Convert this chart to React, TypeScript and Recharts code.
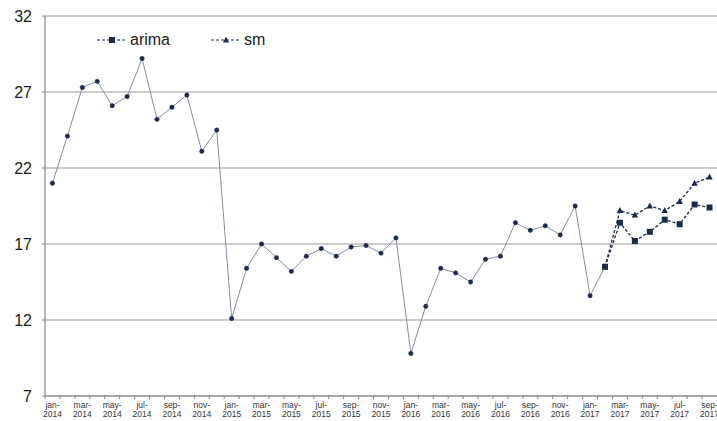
import React from "react";
import {
  LineChart,
  Line,
  XAxis,
  YAxis,
  CartesianGrid,
} from "recharts";

const monthNames = ["jan", "feb", "mar", "apr", "may", "jun", "jul", "aug", "sep", "oct", "nov", "dec"];
const years = [2014, 2015, 2016, 2017];

// observed values, jan-2014 .. feb-2017
const observed = [
  21.0, 24.1, 27.3, 27.7, 26.1, 26.7, 29.2, 25.2, 26.0, 26.8, 23.1, 24.5,
  12.1, 15.4, 17.0, 16.1, 15.2, 16.2, 16.7, 16.2, 16.8, 16.9, 16.4, 17.4,
  9.8, 12.9, 15.4, 15.1, 14.5, 16.0, 16.2, 18.4, 17.9, 18.2, 17.6, 19.5,
  13.6, 15.5,
];

// forecasts, feb-2017 .. sep-2017
const arima = [15.5, 18.4, 17.2, 17.8, 18.6, 18.3, 19.6, 19.4];
const sm = [15.5, 19.2, 18.9, 19.5, 19.2, 19.8, 21.0, 21.4];

const yTicks = [7, 12, 17, 22, 27, 32];

const months: string[] = [];
years.forEach((y) => {
  monthNames.forEach((m, i) => {
    if (y === 2017 && i > 8) return;
    months.push(`${m}-${y}`);
  });
});

const forecastStart = observed.length - 1;
const data = months.map((month, i) => ({
  month,
  observed: i < observed.length ? observed[i] : null,
  arima: i >= forecastStart ? arima[i - forecastStart] : null,
  sm: i >= forecastStart ? sm[i - forecastStart] : null,
}));

const NAVY = "#1c2b4a";
const FONT = "Liberation Sans, Arial, sans-serif";
const HALF_STEP = 7.47;

function MonthTick(props: any) {
  const { x, y, payload, index } = props;
  const [m, yr] = String(payload.value).split("-");
  return (
    <g>
      <line x1={x - HALF_STEP} x2={x - HALF_STEP} y1={y - 1} y2={y + 3} stroke="#888" />
      {index % 2 === 0 && (
        <text textAnchor="middle" fontSize={8.5} fill="#333" stroke="none" fontFamily={FONT}>
          <tspan x={x} y={y + 12}>{m}-</tspan>
          <tspan x={x} y={y + 21}>{yr}</tspan>
        </text>
      )}
    </g>
  );
}

function SquareDot(props: any) {
  const { cx, cy, value } = props;
  if (value == null || cx == null) return <g key={props.key} />;
  return <rect key={props.key} x={cx - 3} y={cy - 3} width={6} height={6} fill={NAVY} />;
}

function TriangleDot(props: any) {
  const { cx, cy, value } = props;
  if (value == null || cx == null) return <g key={props.key} />;
  return <path key={props.key} d={`M${cx},${cy - 3.5}L${cx + 3.2},${cy + 2.5}L${cx - 3.2},${cy + 2.5}Z`} fill={NAVY} />;
}

function ChartLegend() {
  const item = (label: string, marker: React.ReactNode, width: number) => (
    <div style={{ display: "flex", alignItems: "center", width }}>
      <svg width={32} height={12}>
        <line x1={1} x2={31} y1={6} y2={6} stroke={NAVY} strokeDasharray="3 2" strokeWidth={1.2} />
        {marker}
      </svg>
      <span style={{ marginLeft: 2 }}>{label}</span>
    </div>
  );
  return (
    <div
      style={{
        position: "absolute",
        left: 96,
        top: 30,
        display: "flex",
        fontSize: 16,
        lineHeight: "20px",
        color: "#222",
        fontFamily: FONT,
      }}
    >
      {item("arima", <rect x={13} y={3} width={6} height={6} fill={NAVY} />, 114)}
      {item("sm", <path d="M16,2.5L19,8.5L13,8.5Z" fill={NAVY} />, 60)}
    </div>
  );
}

export default function App() {
  return (
    <div style={{ position: "fixed", left: 0, top: 0, width: 717, height: 421, overflow: "hidden", background: "#fff" }}>
      <LineChart
        width={717}
        height={421}
        data={data}
        margin={{ top: 16, right: 0, left: 0, bottom: 0 }}
      >
        <CartesianGrid vertical={false} stroke="#999" strokeWidth={1.2} />
        <XAxis
          dataKey="month"
          interval={0}
          height={25}
          padding={{ left: HALF_STEP, right: HALF_STEP }}
          tickLine={false}
          tickSize={0}
          tickMargin={0}
          axisLine={{ stroke: "#888", strokeWidth: 1.2 }}
          tick={<MonthTick />}
        />
        <YAxis
          width={45}
          domain={[7, 32]}
          ticks={yTicks}
          interval={0}
          tickSize={3}
          tickMargin={10}
          tickLine={{ stroke: "#888" }}
          axisLine={{ stroke: "#888", strokeWidth: 1.2 }}
          tick={{ fontSize: 16, fill: "#1a1a1a", fontFamily: FONT }}
        />
        <Line
          dataKey="observed"
          stroke="#878da0"
          strokeWidth={1}
          dot={{ r: 2.2, fill: NAVY, stroke: NAVY, strokeWidth: 0.5 }}
          connectNulls={false}
          isAnimationActive={false}
        />
        <Line
          dataKey="sm"
          stroke={NAVY}
          strokeWidth={1.3}
          strokeDasharray="3 2"
          dot={<TriangleDot />}
          isAnimationActive={false}
        />
        <Line
          dataKey="arima"
          stroke={NAVY}
          strokeWidth={1.3}
          strokeDasharray="3 2"
          dot={<SquareDot />}
          isAnimationActive={false}
        />
      </LineChart>
      <ChartLegend />
    </div>
  );
}
